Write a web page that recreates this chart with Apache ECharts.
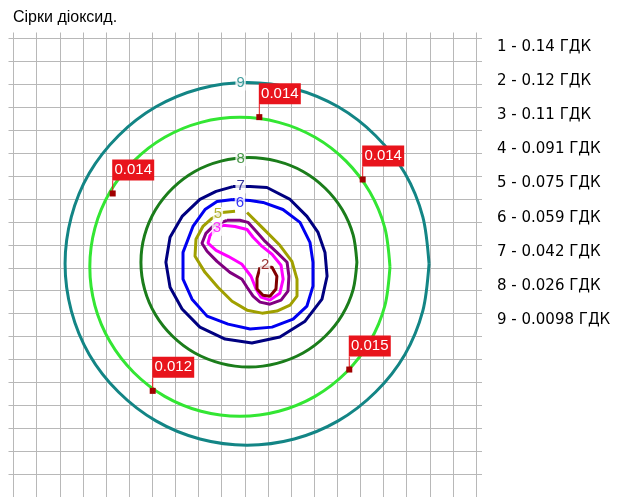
<!DOCTYPE html>
<html>
<head>
<meta charset="utf-8">
<script src="https://cdn.jsdelivr.net/npm/echarts@6/dist/echarts.min.js"></script>
<style>
html,body{margin:0;padding:0;background:#fff;}
#chart{width:625px;height:497px;}
</style>
</head>
<body>
<div id="chart"></div>
<script>
// координати в клітинках сітки (x вправо, y вниз)
const titleText = 'Сірки діоксид.';
const legendLabels = ['1 - 0.14 ГДК', '2 - 0.12 ГДК', '3 - 0.11 ГДК', '4 - 0.091 ГДК', '5 - 0.075 ГДК',
    '6 - 0.059 ГДК', '7 - 0.042 ГДК', '8 - 0.026 ГДК', '9 - 0.0098 ГДК'];

const contour9 = [[17.97,9.83],[17.70,7.78],[16.92,5.87],[15.66,4.24],[14.04,2.98],[12.14,2.19],[10.10,1.92],
    [8.06,2.19],[6.16,2.98],[4.54,4.24],[3.28,5.87],[2.50,7.78],[2.23,9.83],[2.50,11.88],[3.28,13.79],[4.54,15.42],
    [6.16,16.68],[8.06,17.47],[10.10,17.74],[12.14,17.47],[14.04,16.68],[15.66,15.42],[16.92,13.79],[17.70,11.88],[17.97,9.83]];
const zoneLine = [[16.28,9.96],[16.06,8.27],[15.41,6.70],[14.38,5.35],[13.04,4.31],[11.47,3.66],[9.79,3.44],
    [8.11,3.66],[6.54,4.31],[5.20,5.35],[4.17,6.70],[3.52,8.27],[3.30,9.96],[3.52,11.65],[4.17,13.22],[5.20,14.57],
    [6.54,15.61],[8.11,16.26],[9.79,16.48],[11.47,16.26],[13.04,15.61],[14.38,14.57],[15.41,13.22],[16.06,11.65],[16.28,9.96]];
const contour8 = [[14.85,9.76],[14.69,8.58],[14.22,7.47],[13.48,6.53],[12.52,5.80],[11.39,5.35],[10.18,5.19],
    [8.97,5.35],[7.84,5.80],[6.88,6.53],[6.14,7.47],[5.67,8.58],[5.51,9.76],[5.67,10.94],[6.14,12.05],[6.88,12.99],
    [7.84,13.72],[8.97,14.17],[10.18,14.33],[11.39,14.17],[12.52,13.72],[13.48,12.99],[14.22,12.05],[14.69,10.94],[14.85,9.76]];
const contour7 = [[9.49,6.46],[10.23,6.46],[10.96,6.50],[11.96,7.02],[12.69,7.76],[13.17,8.46],[13.47,9.33],
    [13.56,10.37],[13.34,11.37],[12.61,12.33],[11.52,13.02],[10.31,13.28],[9.15,13.11],[8.06,12.59],[7.29,11.80],
    [6.77,10.85],[6.59,9.76],[6.77,8.67],[7.29,7.76],[8.06,7.02],[8.76,6.67],[9.49,6.46]];
const contour6 = [[9.49,7.02],[10.23,7.07],[10.79,7.15],[11.65,7.46],[12.39,8.02],[12.82,8.89],[12.95,9.76],
    [12.95,10.80],[12.69,11.67],[12.09,12.24],[11.18,12.59],[10.23,12.67],[9.28,12.46],[8.37,12.11],[7.72,11.37],
    [7.33,10.50],[7.33,9.33],[7.76,8.20],[8.28,7.46],[8.80,7.11],[9.49,7.02]];
const contour5 = [[10.10,7.59],[10.79,8.28],[11.52,9.02],[12.04,9.72],[12.26,10.50],[12.26,11.24],[11.96,11.63],
    [11.39,11.89],[10.75,11.98],[10.10,11.85],[9.45,11.46],[8.84,10.85],[8.28,10.20],[7.85,9.50],[7.89,8.76],
    [8.19,8.20],[8.58,7.85],[9.02,7.59],[9.58,7.54]];
const contour4 = [[9.23,7.93],[9.79,7.93],[10.14,8.02],[10.49,8.41],[10.88,8.85],[11.39,9.33],[11.83,9.76],
    [11.91,10.37],[11.87,11.02],[11.57,11.41],[11.09,11.59],[10.66,11.50],[10.36,11.24],[10.10,10.85],[9.88,10.50],
    [9.36,10.20],[8.80,9.72],[8.37,9.28],[8.15,8.93],[8.32,8.50],[8.67,8.15],[9.23,7.93]];
const contour3 = [[9.06,8.15],[9.58,8.20],[10.10,8.33],[10.36,8.67],[10.75,9.07],[11.18,9.41],[11.57,9.89],
    [11.66,10.50],[11.52,11.11],[11.09,11.41],[10.70,11.28],[10.49,10.93],[10.27,10.37],[9.88,9.85],[9.28,9.50],
    [8.76,9.24],[8.41,8.93],[8.50,8.59],[8.80,8.28],[9.06,8.15]];
const contour2 = [[10.66,9.98],[10.53,10.46],[10.53,10.93],[10.79,11.20],[11.09,11.24],[11.35,10.93],[11.39,10.37],
    [11.18,9.98],[10.66,9.98]];

const isoLabels = ['9', '8', '7', '6', '5', '3', '2'];
const isoLabelX = [9.82, 9.82, 9.82, 9.79, 8.84, 8.80, 10.88];
const isoLabelY = [1.94, 5.24, 6.43, 7.15, 7.67, 8.28, 9.89];

const pointX = [10.63, 4.29, 15.10, 14.52, 6.02];
const pointY = [3.43, 6.76, 6.15, 14.44, 15.37];
const pointVal = ['0.014', '0.014', '0.014', '0.015', '0.012'];

const colors = {
    '9': '#138585', zone: '#33e633', '8': '#1b7d1b', '7': '#000080', '6': '#0000f0',
    '5': '#a0a000', '4': '#800080', '3': '#ff00ff', '2': '#800000'
};
const gridColor = '#b8b8b8';
const font = 'Liberation Sans, Arial, sans-serif';

function contourSeries(data, color, width, smooth) {
    return {
        type: 'line', data: data, symbol: 'none', smooth: smooth || false,
        lineStyle: {color: color, width: width}, silent: true, z: 3
    };
}

let myChart = echarts.init(document.getElementById('chart'));
let option = {
    animation: false,
    title: {
        text: titleText, left: 13, top: 10, padding: 0,
        textStyle: {fontSize: 16, fontWeight: 'normal', color: '#000', fontFamily: font}
    },
    grid: {left: 13.5, top: 38.5, width: 462.5, height: 460},
    xAxis: {
        type: 'value', min: 0, max: 20, interval: 1, position: 'top',
        axisLine: {show: false}, axisLabel: {show: false},
        axisTick: {show: true, length: 6, lineStyle: {color: gridColor}},
        splitLine: {show: true, lineStyle: {color: gridColor, width: 1}}
    },
    yAxis: [{
        type: 'value', min: 0, max: 20, interval: 1, inverse: true, position: 'left',
        axisLine: {show: false}, axisLabel: {show: false},
        axisTick: {show: true, length: 5, lineStyle: {color: gridColor}},
        splitLine: {show: true, lineStyle: {color: gridColor, width: 1}}
    }, {
        type: 'value', min: 0, max: 20, interval: 1, inverse: true, position: 'right',
        axisLine: {show: false}, axisLabel: {show: false},
        axisTick: {show: true, length: 6, lineStyle: {color: gridColor}},
        splitLine: {show: false}
    }],
    graphic: legendLabels.map((t, i) => ({
        type: 'text', x: 497, y: 46.7 + 34.2 * i,
        style: {text: t, fontSize: 15, fontFamily: 'DejaVu Sans, sans-serif', fill: '#000', verticalAlign: 'middle'}
    })),
    series: [
        contourSeries(contour9, colors['9'], 3, 0.3),
        contourSeries(zoneLine, colors.zone, 3, 0.3),
        contourSeries(contour8, colors['8'], 3, 0.3),
        contourSeries(contour7, colors['7'], 3),
        contourSeries(contour6, colors['6'], 3),
        contourSeries(contour5, colors['5'], 3),
        contourSeries(contour4, colors['4'], 3),
        contourSeries(contour3, colors['3'], 3),
        contourSeries(contour2, colors['2'], 3),
        {
            type: 'scatter', symbolSize: 0, silent: true, z: 4,
            data: isoLabels.map((n, i) => ({
                value: [isoLabelX[i], isoLabelY[i]],
                label: {
                    show: true, position: 'inside', formatter: n, color: colors[n],
                    fontSize: 15, fontFamily: font, backgroundColor: '#fff', padding: [0, 1]
                }
            }))
        },
        {
            type: 'custom', z: 5, silent: true,
            data: pointX.map((x, i) => [x, pointY[i]]),
            encode: {x: 0, y: 1},
            renderItem: function (params, api) {
                let p = api.coord([api.value(0), api.value(1)]);
                return {
                    type: 'group',
                    children: [
                        {type: 'line', shape: {x1: p[0], y1: p[1], x2: p[0], y2: p[1] - 13}, style: {stroke: '#e8141c', lineWidth: 1}},
                        {type: 'rect', shape: {x: p[0] - 0.5, y: p[1] - 34, width: 42, height: 21}, style: {fill: '#e8141c'}},
                        {type: 'text', x: p[0] + 20.5, y: p[1] - 23.5,
                            style: {text: pointVal[params.dataIndex], fill: '#fff', fontSize: 15, fontFamily: font, align: 'center', verticalAlign: 'middle'}},
                        {type: 'rect', shape: {x: p[0] - 3, y: p[1] - 3, width: 6, height: 6}, style: {fill: '#a00000'}}
                    ]
                };
            }
        }
    ]
};
myChart.setOption(option);
</script>
</body>
</html>
